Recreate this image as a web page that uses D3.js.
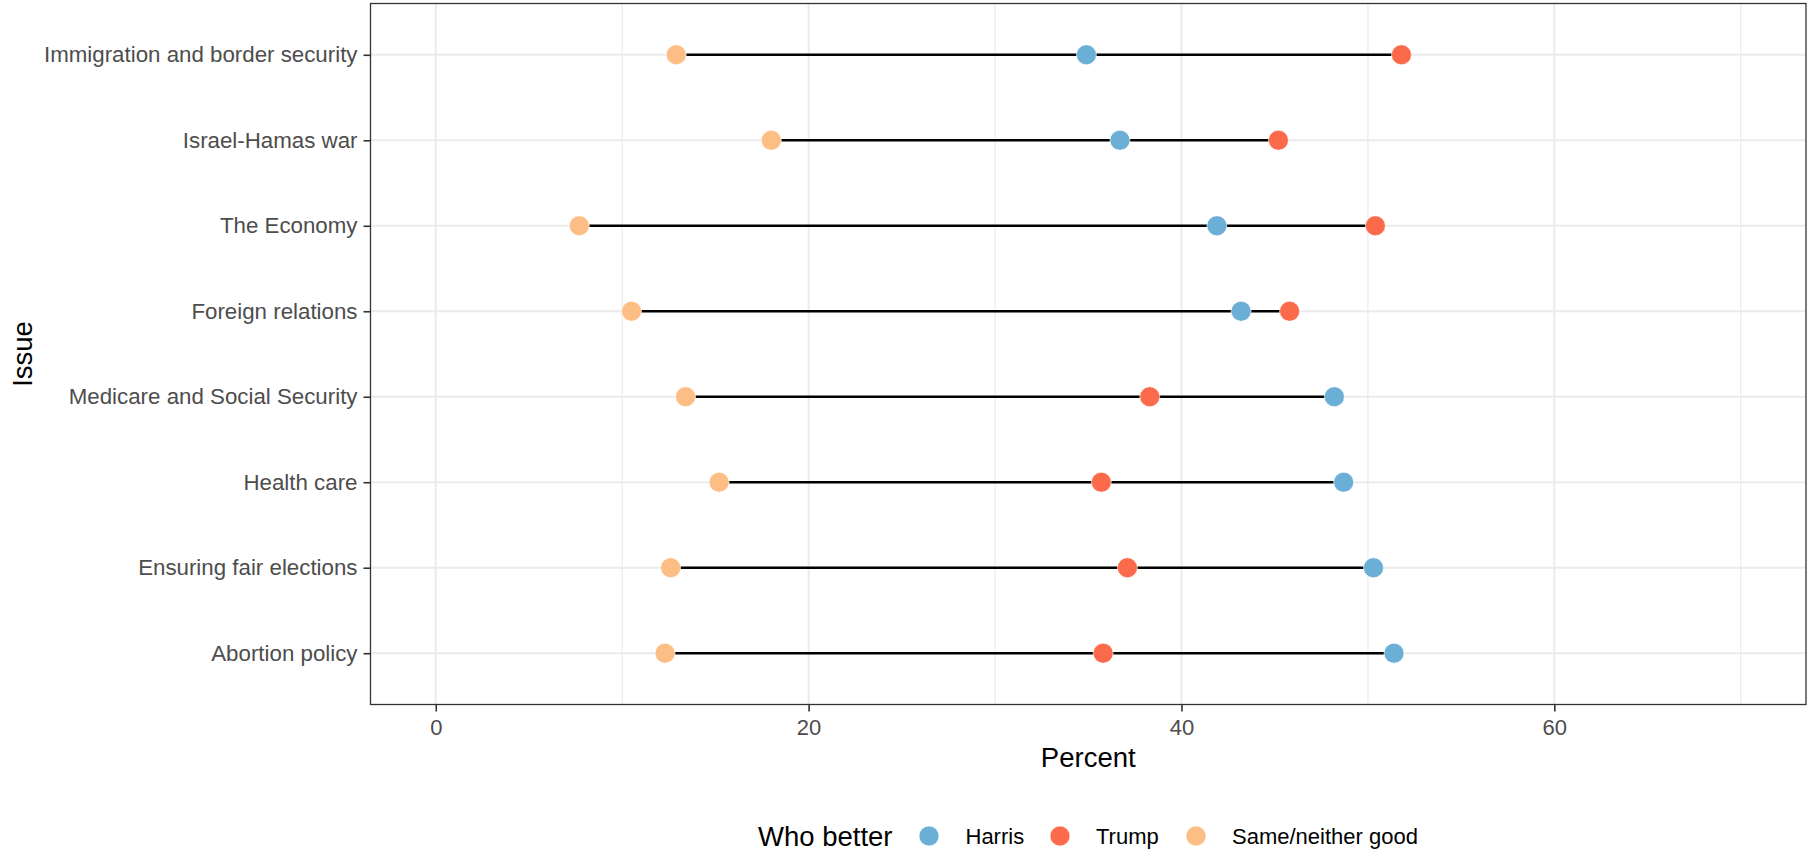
<!DOCTYPE html>
<html>
<head>
<meta charset="utf-8">
<script src="https://cdn.jsdelivr.net/npm/d3@7"></script>
<style>
  html, body { margin: 0; padding: 0; background: #ffffff; }
  svg { display: block; font-family: "Liberation Sans", Arial, Helvetica, sans-serif; }
</style>
</head>
<body>
<svg id="chart" width="1815" height="851"></svg>
<script>
// ---- Data ----
const issues = [
  "Immigration and border security",
  "Israel-Hamas war",
  "The Economy",
  "Foreign relations",
  "Medicare and Social Security",
  "Health care",
  "Ensuring fair elections",
  "Abortion policy"
];
const harris = [34.9, 36.7, 41.9, 43.2, 48.2, 48.7, 50.3, 51.4];
const trump  = [51.8, 45.2, 50.4, 45.8, 38.3, 35.7, 37.1, 35.8];
const same   = [12.9, 18.0, 7.7, 10.5, 13.4, 15.2, 12.6, 12.3];
const seriesNames = ["Harris", "Trump", "Same/neither good"];
const seriesColors = ["#6baed6", "#fb6a4a", "#fdbe85"];
const xMajorTicks = [0, 20, 40, 60];
const xMinorTicks = [10, 30, 50, 70];

// ---- Layout ----
const W = 1815, H = 851;
const panel = { left: 370.5, right: 1806, top: 3.5, bottom: 704.5 };
const svg = d3.select("#chart");
svg.append("rect").attr("width", W).attr("height", H).attr("fill", "#ffffff");

const x = d3.scaleLinear().domain([-3.5, 73.5]).range([panel.left, panel.right]);
const y = d3.scalePoint().domain(issues).range([panel.top, panel.bottom]).padding(0.6);
const color = d3.scaleOrdinal().domain(seriesNames).range(seriesColors);

const series = [harris, trump, same];
const rows = issues.map((iss, i) => ({
  issue: iss,
  vals: series.map((s, k) => ({ name: seriesNames[k], v: s[i] }))
}));

// ---- Grid ----
const grid = svg.append("g");
grid.selectAll("line.minor").data(xMinorTicks).join("line")
  .attr("x1", d => x(d)).attr("x2", d => x(d))
  .attr("y1", panel.top).attr("y2", panel.bottom)
  .attr("stroke", "#ebebeb").attr("stroke-width", 1.2);
grid.selectAll("line.majorx").data(xMajorTicks).join("line")
  .attr("x1", d => x(d)).attr("x2", d => x(d))
  .attr("y1", panel.top).attr("y2", panel.bottom)
  .attr("stroke", "#ebebeb").attr("stroke-width", 2);
grid.selectAll("line.majory").data(issues).join("line")
  .attr("x1", panel.left).attr("x2", panel.right)
  .attr("y1", d => y(d)).attr("y2", d => y(d))
  .attr("stroke", "#ebebeb").attr("stroke-width", 2);

// ---- Segments ----
svg.append("g").selectAll("line").data(rows).join("line")
  .attr("x1", d => x(d3.min(d.vals, v => v.v)))
  .attr("x2", d => x(d3.max(d.vals, v => v.v)))
  .attr("y1", d => y(d.issue)).attr("y2", d => y(d.issue))
  .attr("stroke", "#000000").attr("stroke-width", 2.5);

// ---- Points ----
const pts = svg.append("g");
rows.forEach(r => {
  pts.selectAll(null).data(r.vals).join("circle")
    .attr("cx", d => x(d.v)).attr("cy", y(r.issue)).attr("r", 10)
    .attr("fill", d => color(d.name))
    .attr("stroke", "#ffffff").attr("stroke-width", 0.6);
});

// ---- Panel border ----
svg.append("rect")
  .attr("x", panel.left).attr("y", panel.top)
  .attr("width", panel.right - panel.left).attr("height", panel.bottom - panel.top)
  .attr("fill", "none").attr("stroke", "#333333").attr("stroke-width", 1.3);

// ---- Axes ----
const xAxis = svg.append("g")
  .attr("transform", `translate(0,${panel.bottom})`)
  .call(d3.axisBottom(x).tickValues(xMajorTicks).tickSize(7).tickPadding(8).tickFormat(d3.format("d")));
xAxis.select(".domain").remove();
xAxis.selectAll(".tick line").attr("stroke", "#333333").attr("stroke-width", 1.6);
xAxis.selectAll(".tick text").attr("fill", "#4d4d4d").attr("font-size", 22)
  .attr("font-family", "Liberation Sans, Arial, sans-serif");

const yAxis = svg.append("g")
  .attr("transform", `translate(${panel.left},0)`)
  .call(d3.axisLeft(y).tickSize(7).tickPadding(6));
yAxis.select(".domain").remove();
yAxis.selectAll(".tick line").attr("stroke", "#333333").attr("stroke-width", 1.6);
yAxis.selectAll(".tick text").attr("fill", "#4d4d4d").attr("font-size", 22.3)
  .attr("font-family", "Liberation Sans, Arial, sans-serif");

// ---- Axis titles ----
svg.append("text")
  .attr("x", (panel.left + panel.right) / 2).attr("y", 767)
  .attr("text-anchor", "middle").attr("font-size", 27.5).attr("fill", "#000")
  .text("Percent");
svg.append("text")
  .attr("transform", `translate(31.5,${(panel.top + panel.bottom) / 2}) rotate(-90)`)
  .attr("text-anchor", "middle").attr("font-size", 27.5).attr("fill", "#000")
  .text("Issue");

// ---- Legend ----
const legend = svg.append("g");
const legendY = 836;
legend.append("text").attr("x", 758).attr("y", 845.5)
  .attr("font-size", 27.5).attr("fill", "#000").text("Who better");
const keyX = [929, 1060, 1196];
const labX = [965.5, 1096, 1232];
seriesNames.forEach((n, i) => {
  legend.append("circle").attr("cx", keyX[i]).attr("cy", legendY).attr("r", 10)
    .attr("fill", color(n)).attr("stroke", "#ffffff").attr("stroke-width", 0.6);
  legend.append("text").attr("x", labX[i]).attr("y", 844)
    .attr("font-size", 22).attr("fill", "#000").text(n);
});
</script>
</body>
</html>
